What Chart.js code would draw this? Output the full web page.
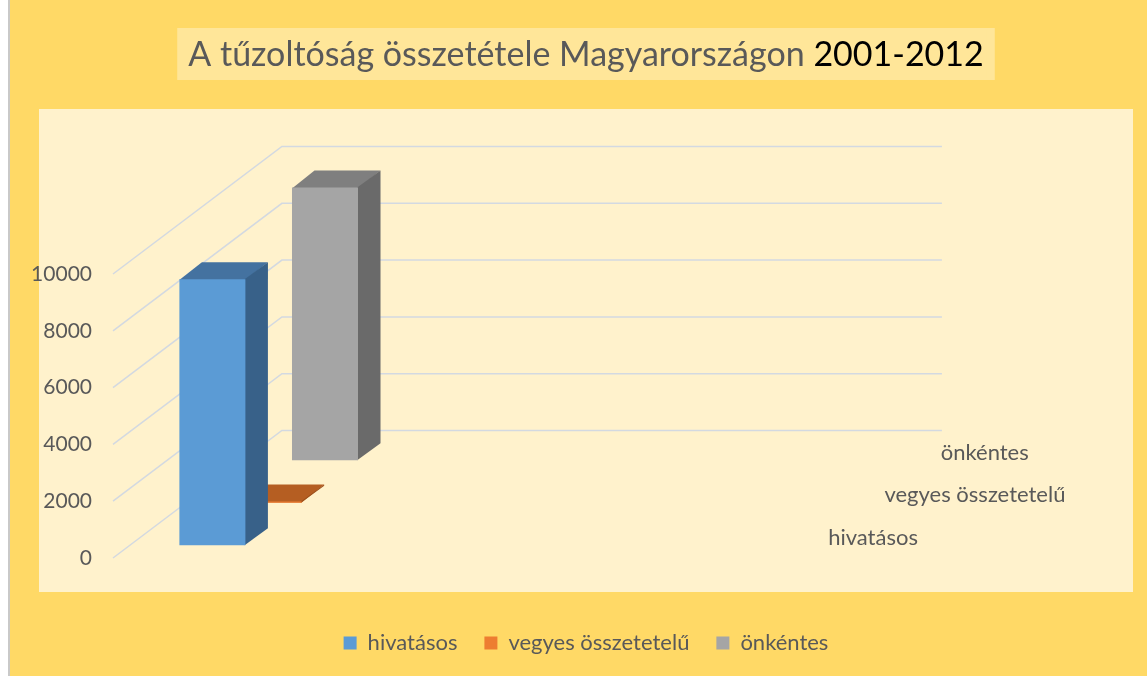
<!DOCTYPE html>
<html>
<head>
<meta charset="utf-8">
<script src="https://cdn.jsdelivr.net/npm/chart.js@4.4.1/dist/chart.umd.min.js"></script>
<style>
  html, body { margin: 0; padding: 0; background: #FFD966; }
  canvas { display: block; }
</style>
</head>
<body>
<canvas id="c" width="1147" height="676"></canvas>
<script>
// ---- data ----
const titleMain = 'A tűzoltóság összetétele Magyarországon ';
const titleYears = '2001-2012';
const categories = ['2001-2012', '', '', ''];
const seriesNames = ['hivatásos', 'vegyes összetetelű', 'önkéntes'];
const hivatasos = [9370, null, null, null];
const vegyes = [40, null, null, null];
const onkentes = [9600, null, null, null];
const yMin = 0, yMax = 10000, yStep = 2000;

// ---- style ----
const FONT = 'Lato';
const TEXT = '#595959';
const faces = [
  { front: '#5B9BD5', top: '#4472A0', side: '#386189' },
  { front: '#ED7D31', top: '#B55E22', side: '#9C4F1B' },
  { front: '#A5A5A5', top: '#7F7F7F', side: '#6A6A6A' }
];
const ROW_DX = 56.3, ROW_DY = 42.5, NROWS = 3, ROW_START = 0.3, BAR_DEPTH = 0.4;
const TITLE_SIZE = 34;

const threeD = {
  id: 'threeD',
  beforeDraw(chart) {
    const { ctx, width, height } = chart;
    ctx.save();
    ctx.fillStyle = '#FFD966'; ctx.fillRect(0, 0, width, height);
    ctx.fillStyle = '#FFFFFF'; ctx.fillRect(0, 0, 8, height);
    ctx.fillStyle = '#C9C9C9'; ctx.fillRect(8, 0, 2, height);
    ctx.fillStyle = '#FFF2CC'; ctx.fillRect(39, 109, 1094, 483);
    const tb = chart.titleBlock;
    ctx.font = TITLE_SIZE + 'px ' + FONT;
    const w = ctx.measureText(titleMain + titleYears).width;
    const cx = (tb.left + tb.right) / 2;
    ctx.fillStyle = '#FFE699';
    ctx.fillRect(cx - w / 2 - 11, 28, w + 22, 52);
    ctx.restore();
  },
  beforeDatasetsDraw(chart) {
    const { ctx, chartArea: a, scales: { y } } = chart;
    const DX = NROWS * ROW_DX, DY = NROWS * ROW_DY;
    ctx.save();
    ctx.strokeStyle = '#D3D9E1';
    ctx.lineWidth = 1.5;
    y.ticks.forEach(t => {
      const py = y.getPixelForValue(t.value);
      ctx.beginPath();
      ctx.moveTo(a.left, py);
      ctx.lineTo(a.left + DX, py - DY);
      ctx.lineTo(a.right + DX, py - DY);
      ctx.stroke();
    });
    ctx.restore();
  },
  beforeDatasetDraw(chart, args) {
    const { ctx } = chart;
    const i = args.index, meta = args.meta;
    const ox = (i + ROW_START) * ROW_DX, oy = (i + ROW_START) * ROW_DY;
    const ddx = BAR_DEPTH * ROW_DX, ddy = BAR_DEPTH * ROW_DY;
    ctx.save();
    ctx.translate(ox, -oy);
    meta.data.forEach((bar, j) => {
      const parsed = meta.controller.getParsed(j);
      if (!parsed || parsed.y === null || parsed.y === undefined || isNaN(parsed.y)) return;
      const p = bar.getProps(['x', 'y', 'base', 'width'], true);
      const l = p.x - p.width / 2, r = p.x + p.width / 2;
      const t = Math.min(p.y, p.base), b = Math.max(p.y, p.base);
      const e = 0.8; // small overlap under the front face to avoid seams
      ctx.fillStyle = faces[i].top;
      ctx.beginPath();
      ctx.moveTo(l, t + e); ctx.lineTo(l + ddx, t - ddy); ctx.lineTo(r + ddx, t - ddy); ctx.lineTo(r, t + e);
      ctx.closePath(); ctx.fill();
      ctx.fillStyle = faces[i].side;
      ctx.beginPath();
      ctx.moveTo(r - e, t); ctx.lineTo(r + ddx, t - ddy); ctx.lineTo(r + ddx, b - ddy); ctx.lineTo(r - e, b);
      ctx.closePath(); ctx.fill();
    });
  },
  afterDatasetDraw(chart) {
    chart.ctx.restore();
  },
  afterDraw(chart) {
    const { ctx, chartArea: a } = chart;
    ctx.save();
    // depth (series) axis labels
    ctx.font = '22px ' + FONT;
    ctx.fillStyle = TEXT;
    ctx.textAlign = 'left';
    ctx.textBaseline = 'middle';
    chart.data.datasets.forEach((ds, i) => {
      const x = a.right + (i + 0.5) * ROW_DX + 27;
      const yy = a.bottom - (i + 0.5) * ROW_DY + 1;
      ctx.fillText(ds.label, x, yy);
    });
    // title years in black
    const tb = chart.titleBlock;
    ctx.font = TITLE_SIZE + 'px ' + FONT;
    const full = ctx.measureText(titleMain + titleYears).width;
    const pre = ctx.measureText(titleMain).width;
    const cx = (tb.left + tb.right) / 2;
    const sx = cx - full / 2 + pre;
    const ty = tb.top + tb.options.padding.top + (TITLE_SIZE * 1.2) / 2;
    ctx.fillStyle = '#FFE699';
    ctx.fillRect(sx - 1, 30, full - pre + 4, 48);
    ctx.fillStyle = '#000000';
    ctx.textBaseline = 'middle';
    ctx.fillText(titleYears, sx, ty);
    ctx.restore();
  }
};

function build() {
  Chart.defaults.font.family = FONT;
  new Chart(document.getElementById('c'), {
    type: 'bar',
    data: {
      labels: categories,
      datasets: [
        { label: seriesNames[0], data: hivatasos, backgroundColor: faces[0].front, borderWidth: 0, clip: false },
        { label: seriesNames[1], data: vegyes, backgroundColor: faces[1].front, borderWidth: 0, clip: false },
        { label: seriesNames[2], data: onkentes, backgroundColor: faces[2].front, borderWidth: 0, clip: false }
      ]
    },
    options: {
      responsive: false,
      animation: false,
      events: [],
      devicePixelRatio: 1,
      layout: { padding: { left: 25, right: 0, top: 0, bottom: 12 } },
      datasets: { bar: { grouped: false, categoryPercentage: 1, barPercentage: 0.4 } },
      scales: {
        x: {
          display: true,
          ticks: { display: false },
          grid: { display: false, drawTicks: false },
          border: { display: false },
          afterFit(s) { s.height = 47; }
        },
        y: {
          min: yMin, max: yMax,
          ticks: { stepSize: yStep, padding: 21, color: TEXT, font: { size: 21 }, callback: v => String(v) },
          grid: { display: false, drawTicks: false },
          border: { display: false },
          afterFit(s) { s.width = 88; }
        },
        yRight: {
          position: 'right',
          display: true,
          ticks: { display: false },
          grid: { display: false, drawTicks: false },
          border: { display: false },
          afterFit(s) { s.width = 374; }
        }
      },
      plugins: {
        tooltip: { enabled: false },
        title: {
          display: true,
          text: titleMain + titleYears,
          color: TEXT,
          font: { size: TITLE_SIZE, weight: 'normal' },
          padding: { top: 34.6, bottom: 198.6 }
        },
        legend: {
          position: 'bottom',
          labels: { color: TEXT, font: { size: 22 }, boxWidth: 13, boxHeight: 13, padding: 27 }
        }
      }
    },
    plugins: [threeD]
  });
}

if (document.fonts && document.fonts.load) {
  Promise.all([document.fonts.load('20px Lato'), document.fonts.load('34px Lato')]).then(build, build);
} else {
  build();
}
</script>
</body>
</html>
